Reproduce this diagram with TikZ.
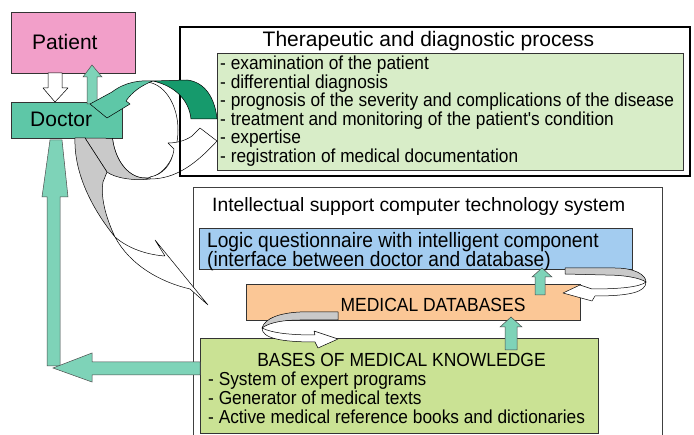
\documentclass[tikz,border=0pt]{standalone}
\usepackage{fontspec}
\setmainfont{Liberation Sans}
\newfontfamily\condfont[FakeStretch=0.92]{Liberation Sans}
\definecolor{pinkc}{HTML}{F29FC9}
\definecolor{docc}{HTML}{5EC7A7}
\definecolor{arrc}{HTML}{7ED3B8}
\definecolor{darkg}{HTML}{169A6C}
\definecolor{lightg}{HTML}{D8EDC8}
\definecolor{bluec}{HTML}{A3CCF0}
\definecolor{orangec}{HTML}{FBC796}
\definecolor{basec}{HTML}{CAE294}
\definecolor{grayc}{HTML}{C9C9C9}
\begin{document}
\begin{tikzpicture}[x=1pt,y=-1pt,
  box/.style={draw=black!80, line width=0.8pt, inner sep=0pt},
  ribbon/.style={draw=black, line width=0.5pt, line join=round},
  tarrow/.style={fill=arrc, draw=black!70, line width=0.5pt, line join=miter},
  lbl/.style={anchor=base west, inner sep=0pt},
  big/.style={font=\fontsize{21}{24}\selectfont},
  mid/.style={font=\condfont\fontsize{20.8}{22}\selectfont},
  itm/.style={font=\condfont\fontsize{18.8}{19}\selectfont}]
\useasboundingbox[fill=white] (0,0) rectangle (694,435);

% circle behind everything
\draw[line width=0.5pt] (145,130) ellipse [x radius=33pt, y radius=48pt];

% white ribbon arrow to "expertise" (behind the process box border)
\path[ribbon, fill=white] (150,179) .. controls (175,179) and (195,165) .. (217,141)
  -- (200,128) -- (192,136) .. controls (185,141) and (176,143) .. (168,143)
  -- (174,149) .. controls (172,165) and (162,175) .. (150,177) -- cycle;

% boxes
\node[box, fill=pinkc, minimum width=124pt, minimum height=61pt] (patient) at (73,42.5) {};
\node[box, fill=docc, minimum width=111pt, minimum height=36pt] (doctor) at (66.5,120) {};
\node[draw=black, line width=2pt, minimum width=510pt, minimum height=149pt] (tdp) at (435,101.5) {};
\node[box, fill=lightg, minimum width=466pt, minimum height=117pt] (tdlist) at (450,111.5) {};
\node[draw=black!75, line width=0.8pt, minimum width=469pt, minimum height=250pt] (ics) at (427.5,312) {};
\node[box, fill=bluec, minimum width=433pt, minimum height=41pt] (logic) at (416,248.5) {};
\node[box, fill=orangec, minimum width=334pt, minimum height=36pt] (mdb) at (413,302) {};
\node[box, fill=basec, minimum width=398pt, minimum height=95pt] (bmk) at (399,385.5) {};

% texts
\node[lbl, big] (tpat) at (32,50) {Patient};
\node[lbl, big] (tdoc) at (30,127) {Doctor};
\node[big, anchor=base, inner sep=0pt] (ttitle) at (428.5,47) {Therapeutic and diagnostic process};
\node[lbl, itm] (t1) at (220,70) {- examination of the patient};
\node[lbl, itm] (t2) at (220,88.5) {- differential diagnosis};
\node[lbl, itm] (t3) at (220,107) {- prognosis of the severity and complications of the disease};
\node[lbl, itm] (t4) at (220,125.5) {- treatment and monitoring of the patient's condition};
\node[lbl, itm] (t5) at (220,144) {- expertise};
\node[lbl, itm] (t6) at (220,162.5) {- registration of medical documentation};
\node[lbl, font=\fontsize{19.3}{22}\selectfont] (ititle) at (212,212) {Intellectual support computer technology system};
\node[lbl, mid] (l1) at (207,248) {Logic questionnaire with intelligent component};
\node[lbl, mid] (l2) at (207,267) {(interface between doctor and database)};
\node[anchor=base, inner sep=0pt, font=\condfont\fontsize{19}{20}\selectfont] (tmdb) at (433,312) {MEDICAL DATABASES};
\node[anchor=base, inner sep=0pt, font=\condfont\fontsize{19}{20}\selectfont] (tbmk) at (401.5,366.5) {BASES OF MEDICAL KNOWLEDGE};
\node[lbl, itm] (b1) at (208,385.5) {- System of expert programs};
\node[lbl, itm] (b2) at (208,404.5) {- Generator of medical texts};
\node[lbl, itm] (b3) at (208,423.5) {- Active medical reference books and dictionaries};

% patient <-> doctor block arrows
\path[ribbon, fill=white] (48,73) -- (62,73) -- (62,88) -- (68,88) -- (55,102) -- (43,88) -- (48,88) -- cycle;
\path[tarrow] (87,104) -- (97,104) -- (97,77) -- (102,77) -- (92,65) -- (83,77) -- (87,77) -- cycle;

% big green ribbon arrow from process to doctor
\path[ribbon, fill=darkg] (153,81) -- (187,80) .. controls (205,82) and (215,98) .. (217,119)
  -- (191,119) .. controls (189,100) and (175,86) .. (153,81) -- cycle;
\path[ribbon, fill=docc] (153,81) .. controls (140,80) and (125,82) .. (112,92)
  -- (90,104) -- (107,118) -- (130,104) -- (126,101) .. controls (132,92) and (142,85) .. (153,81) -- cycle;

% gray ribbons from doctor
\path[ribbon, fill=grayc] (85,138) -- (107,172) .. controls (115,178) and (133,181) .. (150,179)
  -- plot[domain=90:170, samples=20] ({145+33*cos(\x)},{130+48*sin(\x)}) -- cycle;
\path[ribbon, fill=grayc] (75,138) .. controls (74,165) and (85,200) .. (115,237)
  .. controls (108,222) and (100,200) .. (103,182) -- (107,172) -- (85,138) -- cycle;
\path[ribbon, fill=white] (115,237) .. controls (130,250) and (150,255) .. (165,256)
  -- (155,240) -- (208,305) -- (190,289) .. controls (160,282) and (130,265) .. (115,237) -- cycle;

% loops between logic / databases / knowledge
\path[ribbon, fill=grayc] (565,268) -- (615,268) .. controls (635,268) and (646,275) .. (646,282)
  .. controls (640,278) and (625,275) .. (605,275) -- (565,274) -- cycle;
\path[ribbon, fill=white] (646,282) .. controls (646,292) and (630,296) .. (595,296)
  -- (592,301) -- (563,293) -- (580,285) -- (592,289) .. controls (620,289) and (640,287) .. (646,282) -- cycle;
\path[ribbon, fill=grayc] (338,312) -- (300,312) .. controls (280,313) and (265,318) .. (262,328)
  .. controls (270,322) and (285,320) .. (300,320) -- (338,320) -- cycle;
\path[ribbon, fill=white] (262,328) .. controls (262,338) and (280,342) .. (315,342)
  -- (318,348) -- (338,339) -- (314,331) -- (315,335) .. controls (290,335) and (272,333) .. (262,328) -- cycle;

% small teal arrows
\path[tarrow] (535,295) -- (545,295) -- (545,277) -- (552,277) -- (542,268) -- (532,277) -- (535,277) -- cycle;
\path[tarrow] (505,350) -- (517,350) -- (517,327) -- (522,327) -- (511,317) -- (500,327) -- (505,327) -- cycle;

% knowledge -> doctor L-shaped arrow
\path[tarrow] (47,366) -- (60,366) -- (60,197) -- (68,197) -- (62,140) -- (50,140) -- (42,197) -- (47,197) -- cycle;
\path[tarrow] (200,362) -- (92,362) -- (92,353) -- (53,368) -- (92,382) -- (92,375) -- (200,375) -- cycle;
\end{tikzpicture}
\end{document}
